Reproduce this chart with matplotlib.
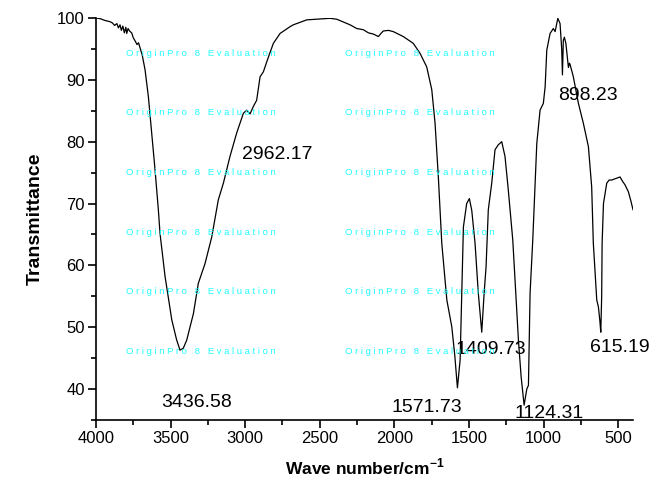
import matplotlib
matplotlib.use("Agg")
import matplotlib.pyplot as plt
from matplotlib.ticker import MultipleLocator

# ---- data ----
wavenumber = [4000, 3973, 3940, 3906, 3890, 3875, 3860, 3850, 3839, 3830, 3820, 3810,
              3800, 3794, 3785, 3775, 3761, 3750, 3738, 3725, 3715, 3705, 3690, 3671,
              3649, 3627, 3604, 3582, 3571, 3537, 3492, 3460, 3437, 3415, 3392, 3347,
              3314, 3269, 3224, 3180, 3146, 3102, 3057, 3012, 2990, 2967, 2945, 2923,
              2900, 2878, 2844, 2811, 2766, 2699, 2677, 2587, 2520, 2431, 2386, 2297,
              2252, 2207, 2174, 2140, 2107, 2090, 2074, 2040, 2007, 1940, 1873, 1828,
              1783, 1749, 1727, 1705, 1682, 1648, 1615, 1595, 1577, 1559, 1548, 1537,
              1515, 1497, 1481, 1459, 1437, 1414, 1398, 1385, 1370, 1347, 1325, 1303,
              1280, 1258, 1236, 1206, 1168, 1150, 1130, 1112, 1101, 1090, 1072, 1045,
              1023, 1001, 989, 978, 956, 934, 922, 904, 889, 878, 873, 867, 860, 850,
              833, 826, 822, 800, 766, 733, 699, 677, 666, 643, 632, 622, 616, 610,
              607, 598, 576, 560, 543, 509, 487, 470, 453, 431, 415, 400]
transmittance = [100.0, 99.9, 99.6, 99.4, 99.2, 98.8, 99.1, 98.4, 98.9, 98.0, 98.7, 97.6,
                 98.5, 97.5, 98.3, 97.9, 97.6, 96.8, 96.3, 95.7, 96.0, 95.2, 94.0, 91.6,
                 87.3, 81.4, 75.4, 69.0, 65.2, 58.2, 51.2, 48.0, 46.3, 46.6, 47.9, 52.2,
                 57.1, 60.3, 64.6, 70.6, 73.3, 77.6, 81.4, 84.6, 85.1, 84.5, 85.7, 86.7,
                 90.5, 91.3, 93.7, 95.9, 97.5, 98.6, 98.9, 99.7, 99.8, 99.95, 99.8, 98.9,
                 98.3, 98.1, 97.6, 97.4, 97.0, 97.5, 97.9, 98.0, 97.8, 97.0, 95.9, 94.3,
                 92.1, 88.4, 83.0, 74.3, 63.6, 54.4, 50.1, 45.5, 40.2, 44.7, 55.5, 66.2,
                 70.0, 70.8, 68.9, 63.6, 55.5, 49.2, 55.5, 59.8, 69.0, 73.3, 78.7, 79.5,
                 80.0, 77.6, 72.2, 64.1, 47.9, 42.0, 37.4, 40.0, 40.6, 55.5, 64.1, 79.7,
                 85.1, 86.2, 88.9, 94.8, 97.5, 98.3, 97.8, 99.95, 99.1, 95.0, 90.8, 96.4,
                 96.9, 95.9, 92.0, 92.7, 92.5, 90.5, 86.2, 83.0, 79.2, 72.7, 63.6, 54.4,
                 53.3, 51.0, 49.2, 55.0, 63.6, 70.0, 73.3, 73.8, 73.8, 74.1, 74.3, 73.6,
                 73.0, 71.9, 70.5, 69.0]

peak_labels = ["3436.58", "2962.17", "1571.73", "1124.31", "1409.73", "615.19", "898.23"]

x_ticks = [4000, 3500, 3000, 2500, 2000, 1500, 1000, 500]
y_ticks = [40, 50, 60, 70, 80, 90, 100]
x_label = "Wave number/cm$^{\\mathbf{-1}}$"
y_label = "Transmittance"
watermark = "OriginPro 8 Evaluation"

# ---- layout ----
plt.rcParams['font.family'] = ['Liberation Sans', 'DejaVu Sans']
plt.rcParams['mathtext.fontset'] = 'custom'
plt.rcParams['mathtext.rm'] = 'Liberation Sans'
plt.rcParams['mathtext.bf'] = 'Liberation Sans:bold'

fig = plt.figure(figsize=(6.52, 4.86), dpi=100)
ax = fig.add_axes([96 / 652, 1 - 420 / 486, (633 - 96) / 652, (420 - 18) / 486])

# watermark rows
wm_text = "   ".join(" ".join(list(w)) for w in watermark.split(" "))
wm_rows_px = [53.5, 112.7, 172.7, 232.3, 291.7, 351.7]
for ypx in wm_rows_px:
    for xpx in (126, 345):
        fig.text(xpx / 652, 1 - ypx / 486, wm_text, color="#22ffff",
                 fontsize=6.8, ha="left", va="center", zorder=0)

ax.plot(wavenumber, transmittance, color="black", lw=0.9, zorder=3)
ax.set_xlim(4000, 400)
ax.set_ylim(35, 100)
ax.patch.set_alpha(0)

for s in ("top", "right"):
    ax.spines[s].set_visible(False)
for s in ("left", "bottom"):
    ax.spines[s].set_linewidth(1.2)

ax.set_xticks(x_ticks)
ax.set_yticks(y_ticks)
ax.xaxis.set_minor_locator(MultipleLocator(250))
ax.yaxis.set_minor_locator(MultipleLocator(5))
ax.tick_params(which="major", direction="out", length=6, width=1.2, labelsize=12, pad=2)
ax.tick_params(which="minor", direction="out", length=3.5, width=1.2)

ax.set_xlabel(x_label, fontsize=12.5, fontweight="bold", labelpad=8)
ax.set_ylabel(y_label, fontsize=14, fontweight="bold", labelpad=10)

label_pos = [(3323, 37.9), (2786, 78.0), (1783, 37.0), (963, 36.0),
             (1354, 46.4), (487, 46.7), (705, 87.4)]
for txt, (xv, yv) in zip(peak_labels, label_pos):
    ax.text(xv, yv, txt, fontsize=14, ha="center", va="center", zorder=4)

fig.savefig("out.png", dpi=100)
